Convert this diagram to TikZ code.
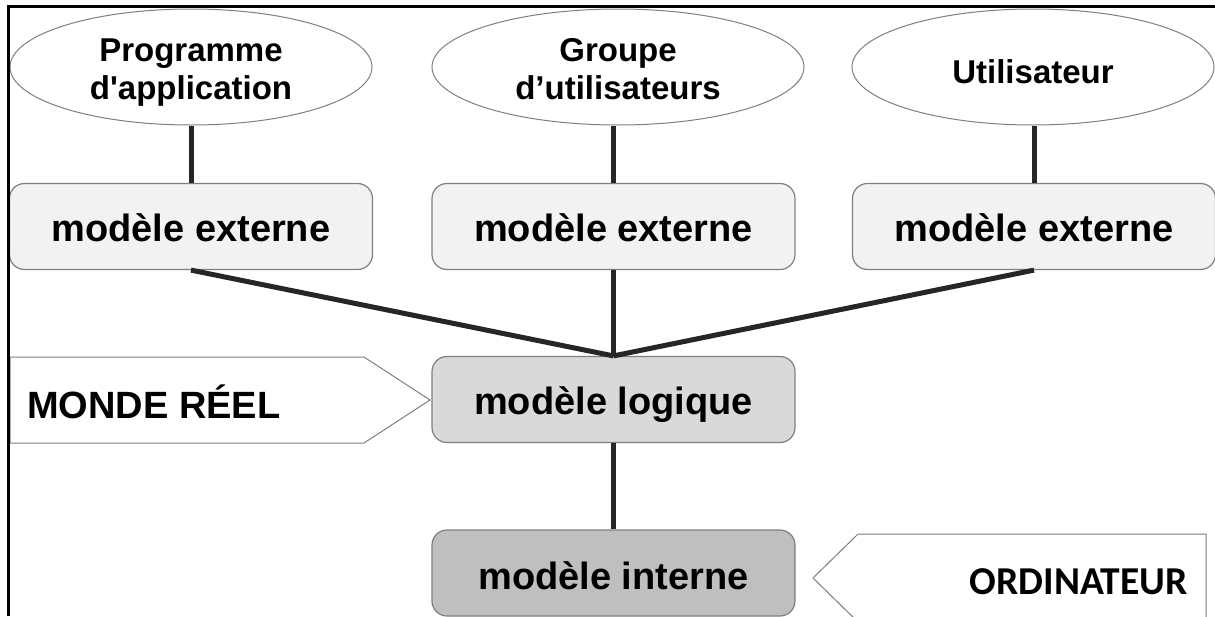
\documentclass[tikz,border=0pt]{standalone}
\usepackage{fontspec}
\setmainfont{Liberation Sans}
\newfontfamily\calib{Carlito}
\usetikzlibrary{shapes.geometric}

\definecolor{edge}{HTML}{7F7F7F}
\definecolor{link}{HTML}{262626}
\definecolor{extfill}{HTML}{F2F2F2}
\definecolor{logfill}{HTML}{D9D9D9}
\definecolor{intfill}{HTML}{BFBFBF}

\tikzset{
  actor/.style={ellipse, draw=edge, line width=1pt, fill=white,
    minimum width=362, minimum height=116, inner sep=0pt},
  actortext/.style={align=center, inner sep=0pt,
    font=\bfseries\fontsize{33}{38}\selectfont},
  level/.style={rectangle, rounded corners=15pt, draw=edge, line width=1.2pt,
    minimum width=363, minimum height=86, inner sep=0pt,
    text height=29pt, text depth=0pt,
    font=\bfseries\fontsize{38}{44}\selectfont},
  link/.style={draw=link, line width=5pt},
  banner/.style={draw=edge, line width=1pt, fill=white},
  frame/.style={draw=black, line width=3pt},
}

\begin{document}
\begin{tikzpicture}[x=1pt, y=-1pt]
\useasboundingbox (0,0) rectangle (1215,616);
\clip (0,0) rectangle (1215,616);

% users
\node[actor] (e1) at (191,67) {};
\node[actor, minimum width=372] (e2) at (618,67) {};
\node[actor] (e3) at (1033,67) {};
\node[actortext] (t1) at ([yshift=-6pt]e1.center) {Programme\\d\textquotesingle application};
\node[actortext] (t2) at ([yshift=-2pt]e2.center) {Groupe\\d’utilisateurs};
\node[actortext] (t3) at ([yshift=-5pt]e3.center) {Utilisateur};

% external schemas
\node[level, fill=extfill] (x1) at (191,226.5) {modèle externe};
\node[level, fill=extfill] (x2) at (613.5,226.5) {modèle externe};
\node[level, fill=extfill] (x3) at (1034,226.5) {modèle externe};

% logical and internal schemas
\node[level, fill=logfill] (lg) at (613.5,399.5) {modèle logique};
\node[level, fill=intfill] (in) at (613.5,573) {\raisebox{-2pt}{modèle interne}};

% connectors
\draw[link] (x1.north) -- (x1.north |- e1.south);
\draw[link] (x2.north) -- (x2.north |- e2.south);
\draw[link] (x3.north) -- (x3.north |- e3.south);
\draw[link] (x1.south) -- (lg.north);
\draw[link] (x3.south) -- (lg.north);
\draw[link] (x2.south) -- (lg.north);
\draw[link] (lg.south) -- (in.north);

% side banners
\draw[banner] (10,357) -- (364,357) -- (430,400) -- (364,443) -- (10,443) -- cycle;
\node[anchor=west, inner sep=0pt, font=\bfseries\fontsize{38}{44}\selectfont]
  (reel) at (27,402) {MONDE RÉEL};
\draw[banner] (1206,534) -- (858,534) -- (813,578) -- (858,622) -- (1206,622) -- cycle;
\node[anchor=east, inner sep=0pt, font=\calib\bfseries\fontsize{39.5}{44}\selectfont]
  (ordi) at (1188,582) {ORDINATEUR};

% frame
\draw[frame] (8,616) -- (8,6) -- (1215,6);
\end{tikzpicture}
\end{document}
